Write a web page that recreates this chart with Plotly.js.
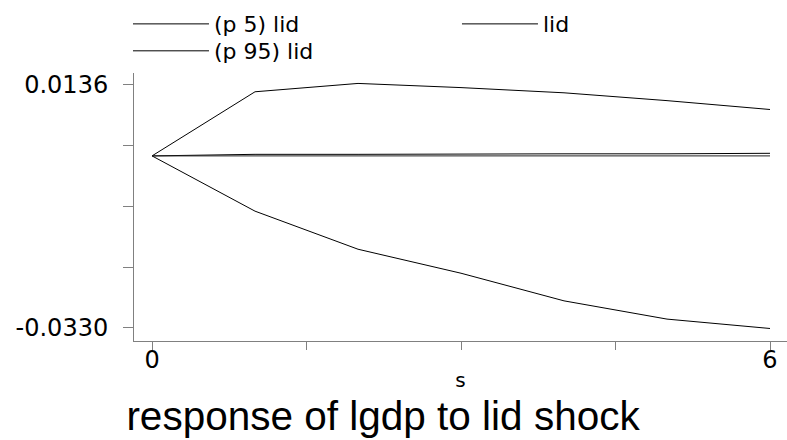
<!DOCTYPE html>
<html>
<head>
<meta charset="utf-8">
<script src="https://cdn.plot.ly/plotly-3.0.1.min.js"></script>
<style>
html,body{margin:0;padding:0;background:#fff;}
#chart{width:787px;height:440px;}
</style>
</head>
<body>
<div id="chart"></div>
<script>
// Data
const steps = [0, 1, 2, 3, 4, 5, 6];
const p5Lid = [0, -0.0106, -0.0179, -0.0225, -0.0278, -0.0313, -0.0331];
const irfLid = [0, 0.0003, 0.0003, 0.0004, 0.0004, 0.0004, 0.0005];
const p95Lid = [0, 0.0123, 0.0139, 0.0131, 0.0121, 0.0106, 0.0089];
const zeroRef = [0, 0, 0, 0, 0, 0, 0];

const yTickVals = [0.0136, 0.00195, -0.0097, -0.02135, -0.0330];
const yTickText = ['0.0136', '', '', '', '-0.0330'];
const xTickVals = [0, 1.5, 3, 4.5, 6];
const xTickText = ['0', '', '', '', '6'];

const lineStyle = {color: '#000000', width: 1};
const legendFont = {family: 'DejaVu Sans', size: 22, color: '#000'};

const traces = [
  {x: steps, y: p5Lid, name: '(p 5) lid', mode: 'lines', line: lineStyle, legend: 'legend'},
  {x: steps, y: irfLid, name: 'lid', mode: 'lines', line: lineStyle, legend: 'legend2'},
  {x: steps, y: p95Lid, name: '(p 95) lid', mode: 'lines', line: lineStyle, legend: 'legend3'},
  {x: steps, y: zeroRef, name: 'zero', mode: 'lines', line: {color: '#222', width: 1}, showlegend: false}
];

function legendAt(x, y) {
  return {
    x: x, y: y, xref: 'paper', yref: 'paper', xanchor: 'left', yanchor: 'middle',
    bgcolor: 'rgba(0,0,0,0)', borderwidth: 0, font: legendFont, itemwidth: 76,
    orientation: 'h'
  };
}

const layout = {
  width: 787, height: 440,
  margin: {l: 134, r: 0, t: 73, b: 99, pad: 0},
  paper_bgcolor: '#ffffff', plot_bgcolor: '#ffffff',
  font: {family: 'DejaVu Sans', size: 24, color: '#000'},
  showlegend: true,
  legend: legendAt(-0.0092, 1.1825),
  legend2: legendAt(0.4946, 1.1825),
  legend3: legendAt(-0.0092, 1.082),
  title: {
    text: 'response of lgdp to lid shock',
    font: {family: 'Liberation Sans', size: 40.5, color: '#000'},
    xref: 'container', yref: 'container', x: 0.4867, y: 0.055,
    xanchor: 'center', yanchor: 'middle'
  },
  xaxis: {
    range: [-0.175, 6.165], showgrid: false, zeroline: false,
    showline: true, linecolor: '#808080', linewidth: 1,
    ticks: 'outside', ticklen: 8, tickcolor: '#808080', tickwidth: 1,
    tickvals: xTickVals, ticktext: xTickText,
    tickfont: {family: 'DejaVu Sans', size: 24, color: '#000'},
    ticklabelstandoff: -11,
    title: {text: 's', font: {family: 'DejaVu Sans', size: 20, color: '#000'}, standoff: 0},
    automargin: false, fixedrange: true
  },
  yaxis: {
    range: [-0.0355, 0.0159], showgrid: false, zeroline: false,
    showline: true, linecolor: '#808080', linewidth: 1,
    ticks: 'outside', ticklen: 10, tickcolor: '#808080', tickwidth: 1,
    tickvals: yTickVals, ticktext: yTickText,
    tickfont: {family: 'DejaVu Sans', size: 24, color: '#000'},
    ticklabelstandoff: 10,
    automargin: false, fixedrange: true
  }
};

Plotly.newPlot('chart', traces, layout, {displayModeBar: false, staticPlot: true});
</script>
</body>
</html>
